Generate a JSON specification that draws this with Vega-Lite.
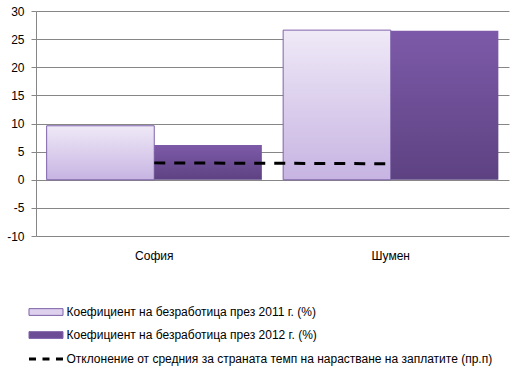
{
  "$schema": "https://vega.github.io/schema/vega-lite/v6.json",
  "width": 473,
  "height": 225,
  "autosize": {"type": "none"},
  "padding": {"left": 36, "top": 11, "right": 17, "bottom": 132},
  "background": "white",
  "config": {
    "font": "Liberation Sans",
    "view": {"stroke": null},
    "axis": {"labelColor": "#000000", "labelFontSize": 12, "titleFontSize": 12}
  },
  "datasets": {
    "bars": [
      {"city": "София", "series": "2011", "value": 9.6},
      {"city": "София", "series": "2012", "value": 6.2},
      {"city": "Шумен", "series": "2011", "value": 26.6},
      {"city": "Шумен", "series": "2012", "value": 26.5}
    ],
    "dev": [
      {"city": "София", "dev": 3.0},
      {"city": "Шумен", "dev": 2.85}
    ]
  },
  "layer": [
    {
      "data": {"name": "bars"},
      "mark": {"type": "bar", "strokeWidth": 1},
      "encoding": {
        "x": {
          "field": "city", "type": "nominal", "sort": ["София", "Шумен"],
          "scale": {"paddingInner": 0.09, "paddingOuter": 0.045},
          "axis": {"title": null, "labelAngle": 0, "domain": false, "ticks": false, "grid": false, "labelPadding": 14}
        },
        "xOffset": {"field": "series", "type": "nominal", "sort": ["2011", "2012"]},
        "y": {
          "field": "value", "type": "quantitative",
          "scale": {"domain": [-10, 30], "nice": false, "zero": false},
          "axis": {
            "title": null, "values": [-10, -5, 0, 5, 10, 15, 20, 25, 30], "labelOverlap": false,
            "labelExpr": "'' + datum.value",
            "grid": true, "gridColor": "#868686", "domainColor": "#868686",
            "tickColor": "#868686", "tickSize": 5, "labelPadding": 7
          }
        },
        "fill": {
          "condition": {"test": "datum.series === '2011'", "value": {"gradient": "linear", "x1": 0, "y1": 0, "x2": 0, "y2": 1, "stops": [{"offset": 0, "color": "#EFE9F7"}, {"offset": 1, "color": "#C7B4E2"}]}},
          "value": {"gradient": "linear", "x1": 0, "y1": 0, "x2": 0, "y2": 1, "stops": [{"offset": 0, "color": "#7D5AA9"}, {"offset": 1, "color": "#5D4282"}]}
        },
        "stroke": {
          "condition": {"test": "datum.series === '2011'", "value": "#7E62AA"},
          "value": null
        }
      }
    },
    {
      "data": {"name": "dev"},
      "mark": {"type": "line", "color": "#000000", "strokeWidth": 3, "strokeDash": [11, 9]},
      "encoding": {
        "x": {"field": "city", "type": "nominal", "sort": ["София", "Шумен"]},
        "y": {
          "field": "dev", "type": "quantitative",
          "axis": {
            "title": null, "values": [-10, -5, 0, 5, 10, 15, 20, 25, 30], "labelOverlap": false,
            "labelExpr": "'' + datum.value",
            "grid": true, "gridColor": "#868686", "domainColor": "#868686",
            "tickColor": "#868686", "tickSize": 5, "labelPadding": 7
          }
        }
      }
    },
    {
      "data": {"name": "bars"},
      "transform": [{"filter": "false"}],
      "mark": {"type": "point", "filled": true, "opacity": 1},
      "encoding": {
        "color": {
          "field": "key", "type": "nominal",
          "scale": {
            "domain": [
              "Коефициент на безработица през 2011 г. (%)",
              "Коефициент на безработица през 2012 г. (%)"
            ],
            "range": ["#DDD1EE", "#6C4C95"]
          },
          "legend": {
            "orient": "none", "legendX": 4, "legendY": 295, "direction": "vertical",
            "title": null, "symbolSize": 81, "symbolType": "M-3.78,-0.75H3.78V0.75H-3.78Z",
            "symbolStrokeColor": "#7E62AA", "symbolStrokeWidth": 1, "symbolOpacity": 1,
            "labelOffset": 14.5, "labelFontSize": 12,
            "labelColor": "#000000", "rowPadding": 11, "labelLimit": 0, "padding": 0
          }
        }
      }
    },
    {
      "data": {"name": "bars"},
      "transform": [{"filter": "false"}],
      "mark": {"type": "line", "color": "#000000", "strokeWidth": 3},
      "encoding": {
        "strokeDash": {
          "field": "key2", "type": "nominal",
          "scale": {
            "domain": ["Отклонение от средния за страната темп на нарастване на заплатите (пр.п)"],
            "range": [[7, 6.5]]
          },
          "legend": {
            "orient": "none", "legendX": 4, "legendY": 342, "direction": "vertical",
            "title": null, "symbolSize": 81, "symbolType": "M-3.78,0H3.78",
            "symbolStrokeColor": "#000000", "symbolStrokeWidth": 3, "symbolOpacity": 1,
            "labelOffset": 14.5, "labelFontSize": 12,
            "labelColor": "#000000", "labelLimit": 0, "padding": 0
          }
        }
      }
    }
  ]
}
